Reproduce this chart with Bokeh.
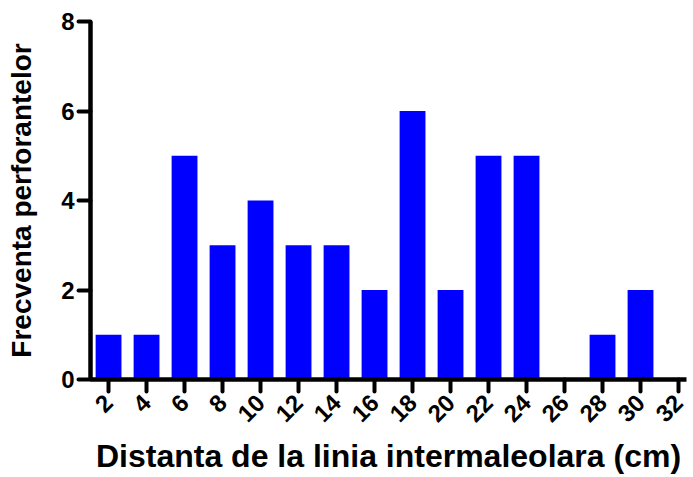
import math
from bokeh.plotting import figure
from bokeh.models import FixedTicker, Range1d
from bokeh.embed import file_html
from bokeh.resources import INLINE

distances = [2, 4, 6, 8, 10, 12, 14, 16, 18, 20, 22, 24, 26, 28, 30, 32]
counts = [1, 1, 5, 3, 4, 3, 3, 2, 6, 2, 5, 5, 0, 1, 2, 0]
y_ticks = [0, 2, 4, 6, 8]

p = figure(width=693, height=477, output_backend="svg", toolbar_location=None,
           x_range=Range1d(1.05, 32.42), y_range=Range1d(0, 8),
           min_border_left=90, min_border_top=21, min_border_bottom=97, min_border_right=7)

p.vbar(x=distances, top=counts, width=1.36, bottom=0, fill_color="#0000ff", line_color=None)

p.grid.visible = False
p.outline_line_color = None
p.background_fill_color = "white"

FONT = "Liberation Sans"
for ax in (p.xaxis[0], p.yaxis[0]):
    ax.axis_line_width = 4.5
    ax.axis_line_color = "black"
    ax.major_tick_line_width = 4
    ax.major_tick_line_color = "black"
    ax.major_tick_line_cap = "round"
    ax.major_tick_in = 0
    ax.major_tick_out = 12
    ax.minor_tick_line_color = None
    ax.major_label_text_font = FONT
    ax.major_label_text_font_style = "bold"
    ax.major_label_text_font_size = "24px"
    ax.major_label_text_color = "black"
    ax.axis_label_text_font = FONT
    ax.axis_label_text_font_style = "bold"
    ax.axis_label_text_color = "black"

p.xaxis.ticker = FixedTicker(ticks=distances)
p.xaxis.major_label_orientation = math.pi / 4
p.xaxis.major_label_standoff = 7
p.xaxis.axis_label = "Distanta de la linia intermaleolara (cm)"
p.xaxis.axis_label_text_font_size = "32px"
p.xaxis.axis_label_standoff = 6

p.yaxis.ticker = FixedTicker(ticks=y_ticks)
p.yaxis.major_label_standoff = 4
p.yaxis.axis_label = "Frecventa perforantelor"
p.yaxis.axis_label_text_font_size = "28px"
p.yaxis.axis_label_standoff = 21

open("out.html", "w").write(file_html(p, INLINE))
